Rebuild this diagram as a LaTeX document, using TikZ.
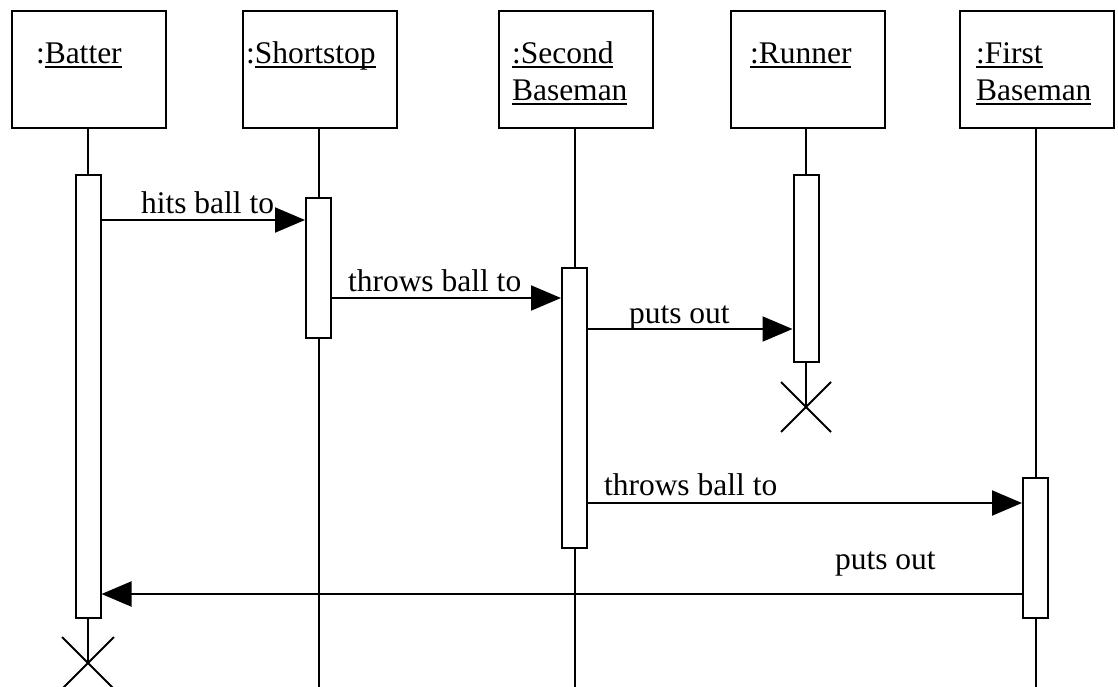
\documentclass[tikz,border=0pt]{standalone}
\usepackage{fontspec}
\setmainfont{Liberation Serif}
\usetikzlibrary{arrows.meta}
\newcommand\ulname[1]{\setbox0\hbox{#1}\rlap{\rule[-4.5pt]{\wd0}{1.6pt}}\box0}
\begin{document}
\begin{tikzpicture}[x=1pt,y=-1pt,line width=2pt,
	objbox/.style={draw,minimum width=154pt,minimum height=117pt,anchor=north,inner sep=0pt},
	actbar/.style={draw,fill=white,minimum width=25pt,anchor=north,inner sep=0pt},
	txt/.style={anchor=base west,inner sep=0pt,font=\fontsize{31.5}{37}\selectfont},
	msg/.style={-{Triangle[length=30pt,width=25pt]}}]
	\useasboundingbox (0,0) rectangle (1118,686);
	\node[objbox] (boxBatter) at (89,10) {};
	\node[objbox] (boxShort) at (319.5,10) {};
	\node[objbox] (boxSecond) at (576,10) {};
	\node[objbox] (boxRunner) at (808,10) {};
	\node[objbox] (boxFirst) at (1036.5,10) {};
	\node[txt] (nBatter) at (35,63) {:\ulname{Batter}};
	\node[txt] (nShort) at (245,63) {:\ulname{Shortstop}};
	\node[txt] (nSecond) at (511,63) {\ulname{:Second}};
	\node[txt] (nSecondB) at (511,100) {\ulname{Baseman}};
	\node[txt] (nRunner) at (749,63) {\ulname{:Runner}};
	\node[txt] (nFirst) at (975,63) {\ulname{:First}};
	\node[txt] (nFirstB) at (975,100) {\ulname{Baseman}};
	\node[actbar,minimum height=443pt] (actBatter) at (88,174) {};
	\node[actbar,minimum height=140pt] (actShort) at (318.5,197) {};
	\node[actbar,minimum height=280pt] (actSecond) at (574.5,267) {};
	\node[actbar,minimum height=187pt] (actRunner) at (806,174) {};
	\node[actbar,minimum height=140pt] (actFirst) at (1035.5,477) {};
	\coordinate (endBatter) at (88,663);
	\coordinate (endRunner) at (806,407);
	\draw (boxBatter.south -| actBatter) -- (actBatter.north) (actBatter.south) -- (endBatter);
	\draw (boxShort.south -| actShort) -- (actShort.north) (actShort.south) -- ++(0,349);
	\draw (boxSecond.south -| actSecond) -- (actSecond.north) (actSecond.south) -- ++(0,139);
	\draw (boxRunner.south -| actRunner) -- (actRunner.north) (actRunner.south) -- (endRunner);
	\draw (boxFirst.south -| actFirst) -- (actFirst.north) (actFirst.south) -- ++(0,69);
	\draw (endBatter) ++(-26,-26) -- ++(52,52) (endBatter) ++(-26,26) -- ++(52,-52);
	\draw (endRunner) ++(-25,-25) -- ++(50,50) (endRunner) ++(-25,25) -- ++(50,-50);
	\draw[msg] (actBatter.east |- 0,220) -- (actShort.west |- 0,220);
	\draw[msg] (actShort.east |- 0,298) -- (actSecond.west |- 0,298);
	\draw[msg] (actSecond.east |- 0,329) -- (actRunner.west |- 0,329);
	\draw[msg] (actSecond.east |- 0,503) -- (actFirst.west |- 0,503);
	\draw[msg] (actFirst.west |- 0,594) -- (actBatter.east |- 0,594);
	\node[txt] (lHits) at (140,213) {hits ball to};
	\node[txt] (lThrowsA) at (347,291) {throws ball to};
	\node[txt] (lPutsA) at (628,323) {puts out};
	\node[txt] (lThrowsB) at (603,495) {throws ball to};
	\node[txt] (lPutsB) at (834,569) {puts out};
\end{tikzpicture}
\end{document}
